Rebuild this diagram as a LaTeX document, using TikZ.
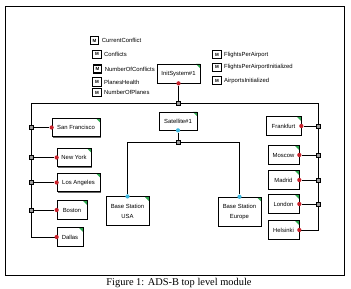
\documentclass[tikz,border=0pt]{standalone}
\usepackage{fontspec}
\setmainfont{Liberation Serif}
\setsansfont{Liberation Sans}
\usetikzlibrary{shadows}
\definecolor{portred}{HTML}{C8202A}
\definecolor{portcyan}{HTML}{3DB8E0}
\definecolor{tabgreen}{HTML}{2FA84F}
\definecolor{juncgray}{HTML}{9A9A9A}

\tikzset{
  blk/.style={draw,fill=white,line width=0.5pt,font=\sffamily\fontsize{4.2}{5.6}\selectfont,align=center,inner sep=0pt,
    drop shadow={shadow xshift=0.8pt,shadow yshift=-0.8pt,fill=black!60,opacity=1},
    path picture={\fill[tabgreen] (path picture bounding box.north east) -- ++(-3pt,0) -- ++(3pt,-3pt) -- cycle;}},
  rport/.style={circle,fill=portred,inner sep=0pt,minimum size=3pt},
  cport/.style={circle,fill=portcyan,inner sep=0pt,minimum size=3pt},
  junc/.style={draw,fill=juncgray,line width=0.4pt,inner sep=0pt,minimum size=2.8pt},
  micon/.style={draw,fill=white,inner sep=0pt,minimum size=5.8pt,font=\sffamily\bfseries\fontsize{3.2}{3.2}\selectfont},
  mlabel/.style={anchor=west,inner sep=0.5pt,font=\sffamily\fontsize{4.2}{5}\selectfont},
  wire/.style={line width=0.6pt},
  fatwire/.style={line width=1.3pt},
}

\begin{document}
\begin{tikzpicture}[x=0.025cm,y=-0.025cm]
  \useasboundingbox (0,0) rectangle (351,289);
  \draw[line width=0.6pt] (5,6) rectangle (344,275);
  % variables
  \foreach \n/\x/\y/\b/\t in {m1/94.5/40.5/0.9/CurrentConflict,m2/97/54/0.6/Conflicts,m3/97.5/69/0.9/NumberOfConflicts,m4/97/82/0.6/PlanesHealth,m5/97/92.5/0.6/NumberOfPlanes,m6/217/54.5/0.6/FlightsPerAirport,m7/217/67/0.6/FlightsPerAirportInitialized,m8/217/80.5/0.6/AirportsInitialized}
    {\node[micon,line width=\b pt] (\n) at (\x,\y) {M}; \node[mlabel] (\n-l) at ([xshift=1.2pt]\n.east) {\t};}
  % blocks
  \node[blk,minimum width=1.075cm,minimum height=0.475cm] (init) at (178.5,73.5) {InitSystem\#1};
  \node[blk,minimum width=0.95cm,minimum height=0.45cm] (sat) at (178,121) {Satellite\#1};
  \foreach \n/\x/\y/\w/\t in {sf/76/127.5/48/San Francisco,ny/74/157.5/34/New York,la/78.5/182.5/43/Los Angeles,bos/72/210/30/Boston,dal/70/237/26/Dallas,fra/283.5/126/35/Frankfurt,mos/283.5/155/31/Moscow,mad/283.5/180/31/Madrid,lon/283.5/204/31/London,hel/283.5/230/31/Helsinki}
    \node[blk,minimum width={\w*0.025cm},minimum height=0.465cm] (\n) at (\x,\y) {\t};
  \node[blk,minimum width=1.075cm,minimum height=0.71cm] (bsu) at (127.5,211) {Base Station\\[1.5pt]USA};
  \node[blk,minimum width=1.075cm,minimum height=0.72cm] (bse) at (239.5,211.5) {Base Station\\[1.5pt]Europe};
  % bus
  \coordinate (bl) at (31,103.5);
  \coordinate (br) at (318,103.5);
  \draw[wire] (dal.west) -| (bl) -- (br) |- (hel.east);
  \node[junc] (jtop) at (init.south |- bl) {};
  \foreach \n in {sf,ny,la,bos} \node[junc] (j-\n) at (bl |- \n.west) {};
  \foreach \n in {fra,mos,mad,lon} \node[junc] (j-\n) at (br |- \n.east) {};
  \node[junc] (jsat) at (178,142) {};
  % ports
  \foreach \n in {sf,ny,la,bos,dal} \node[rport] (p-\n) at (\n.west) {};
  \foreach \n in {fra,mos,mad,lon,hel} \node[rport] (p-\n) at (\n.east) {};
  \node[rport] (p-init) at (init.south) {};
  \node[cport] (p-sat) at (sat.south) {};
  \node[cport] (p-bsu) at (bsu.north) {};
  \node[cport] (p-bse) at (bse.north) {};
  % links
  \draw[wire] (p-init) -- (jtop);
  \draw[fatwire] (j-sf) -- (p-sf);
  \foreach \n in {ny,la,bos,fra,mos,mad,lon} \draw[wire] (j-\n) -- (p-\n);
  \draw[wire] (p-sat) -- (jsat);
  \draw[wire] (jsat) -| (p-bsu);
  \draw[wire] (jsat) -| (p-bse);
  \draw[fatwire] (p-bsu) -- (p-bsu |- jsat);
  \node[font=\fontsize{7.4}{9}\selectfont] (cap) at (179,283) {Figure 1: ADS-B top level module};
\end{tikzpicture}
\end{document}
